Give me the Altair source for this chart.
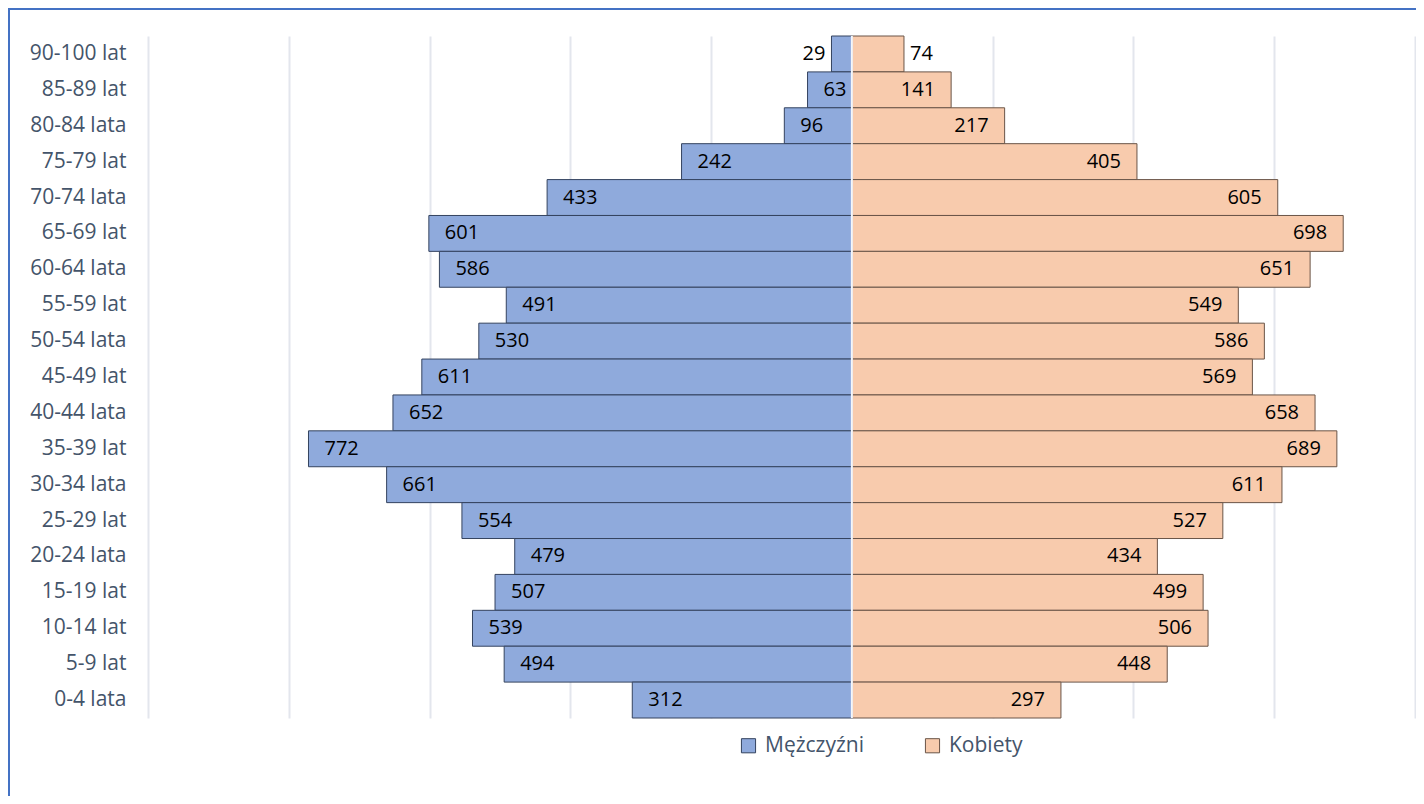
import altair as alt
import pandas as pd

groups = ["90-100 lat", "85-89 lat", "80-84 lata", "75-79 lat", "70-74 lata",
          "65-69 lat", "60-64 lata", "55-59 lat", "50-54 lata", "45-49 lat",
          "40-44 lata", "35-39 lat", "30-34 lata", "25-29 lat", "20-24 lata",
          "15-19 lat", "10-14 lat", "5-9 lat", "0-4 lata"]
men = [29, 63, 96, 242, 433, 601, 586, 491, 530, 611, 652, 772, 661, 554, 479, 507, 539, 494, 312]
women = [74, 141, 217, 405, 605, 698, 651, 549, 586, 569, 658, 689, 611, 527, 434, 499, 506, 448, 297]
series = ["Mężczyźni", "Kobiety"]
grid_values = [-1000, -800, -600, -400, -200, 0, 200, 400, 600, 800]

rows = []
for g, m, w in zip(groups, men, women):
    rows.append({"group": g, "sex": series[0], "value": m, "signed": -m})
    rows.append({"group": g, "sex": series[1], "value": w, "signed": w})
df = pd.DataFrame(rows)

FONT = "Open Sans"
AXIS_COL = "#44546A"

y_enc = alt.Y("group:N", sort=groups,
              scale=alt.Scale(paddingInner=0, paddingOuter=0),
              axis=alt.Axis(title=None, labelFontSize=21, labelColor=AXIS_COL,
                            labelFont=FONT, ticks=False, domain=False,
                            labelPadding=22, grid=False))
x_enc = alt.X("signed:Q",
              scale=alt.Scale(domain=[-1000, 800], nice=False, zero=False),
              axis=alt.Axis(title=None, labels=False, ticks=False, domain=False,
                            grid=True, values=grid_values,
                            gridColor="#E3E6ED", gridWidth=2))

base = alt.Chart(df)

bars = base.mark_bar(strokeWidth=1).encode(
    y=y_enc, x=x_enc,
    color=alt.Color("sex:N", scale=alt.Scale(domain=series, range=["#8FAADC", "#F8CBAD"]),
                    legend=alt.Legend(title=None, orient="none", legendX=590, legendY=699,
                                      direction="horizontal", labelFontSize=21,
                                      labelFont=FONT, labelColor=AXIS_COL,
                                      symbolType="square", symbolSize=200,
                                      symbolStrokeColor="#3a3a3a", symbolStrokeWidth=1,
                                      columnPadding=58, labelOffset=6)),
    stroke=alt.Stroke("sex:N", scale=alt.Scale(domain=series, range=["#34435F", "#6A5548"]),
                      legend=None),
)

center = alt.Chart(alt.Data(values=[{}])).mark_rule(color="#F4F6FA", strokeWidth=2).encode(
    x=alt.datum(0, type="quantitative"))

txt_kw = dict(fontSize=20, font=FONT, color="#000000", baseline="middle")

men_in = base.transform_filter(
    (alt.datum.sex == series[0]) & (alt.datum.value >= 60)
).mark_text(align="left", dx=16, **txt_kw).encode(y=alt.Y("group:N", sort=groups), x="signed:Q", text="value:Q")
men_out = base.transform_filter(
    (alt.datum.sex == series[0]) & (alt.datum.value < 60)
).mark_text(align="right", dx=-6, **txt_kw).encode(y=alt.Y("group:N", sort=groups), x="signed:Q", text="value:Q")
women_in = base.transform_filter(
    (alt.datum.sex == series[1]) & (alt.datum.value >= 100)
).mark_text(align="right", dx=-16, **txt_kw).encode(y=alt.Y("group:N", sort=groups), x="signed:Q", text="value:Q")
women_out = base.transform_filter(
    (alt.datum.sex == series[1]) & (alt.datum.value < 100)
).mark_text(align="left", dx=6, **txt_kw).encode(y=alt.Y("group:N", sort=groups), x="signed:Q", text="value:Q")

frame_left = alt.Chart(alt.Data(values=[{}])).mark_rule(color="#4472C4", strokeWidth=2).encode(
    x=alt.value(-139), y=alt.value(-28), y2=alt.value(760))
frame_top = alt.Chart(alt.Data(values=[{}])).mark_rule(color="#4472C4", strokeWidth=2).encode(
    x=alt.value(-140), x2=alt.value(1280), y=alt.value(-27))

chart = alt.layer(bars, center, men_in, men_out, women_in, women_out, frame_left, frame_top).properties(
    width=1267, height=682,
    padding={"left": 140, "top": 28, "right": 1, "bottom": 80},
    autosize=alt.AutoSizeParams(type="none"),
).configure(font=FONT).configure_view(stroke=None, strokeWidth=0)

chart.save("out.html", embed_options={"renderer": "svg", "actions": False})
